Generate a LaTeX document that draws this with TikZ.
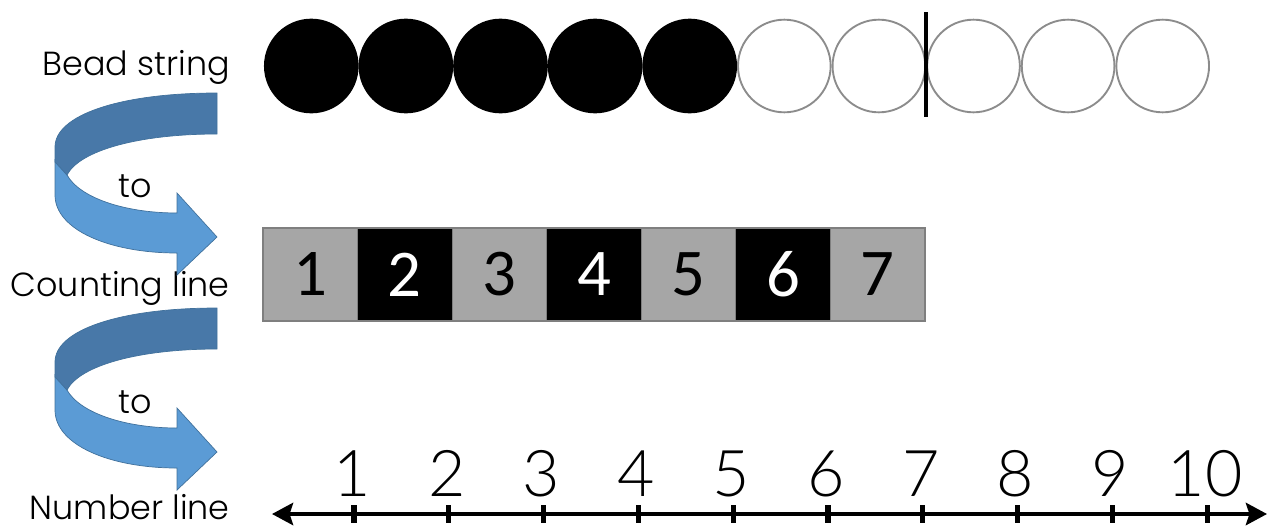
\documentclass[tikz,border=0pt]{standalone}
\usepackage{fontspec}
\setmainfont{Poppins Light}
\newfontfamily\calib{Carlito}
\newfontfamily\thindigits{Lato Light}
\usetikzlibrary{arrows.meta}
\definecolor{bdark}{HTML}{4878A8}
\definecolor{blight}{HTML}{5B9BD5}
\definecolor{bedge}{HTML}{41719C}
\definecolor{boxgray}{HTML}{A6A6A6}
\definecolor{boxedge}{HTML}{7F7F7F}
\definecolor{beadedge}{HTML}{8C8C8C}
\tikzset{
  px/.style={x=0.03cm,y=-0.03cm},
  beadfull/.style={circle,fill=black,inner sep=0pt,minimum size=2.84cm},
  beadopen/.style={circle,draw=beadedge,line width=1.6pt,fill=white,inner sep=0pt,minimum size=2.78cm},
  cellbox/.style={rectangle,draw=boxedge,line width=1pt,inner sep=0pt,minimum width=2.837cm,minimum height=2.79cm,font=\calib\fontsize{57}{60}\selectfont},
  graycell/.style={cellbox,fill=boxgray,text=black},
  blackcell/.style={cellbox,fill=black,text=white},
  sidelabel/.style={anchor=base east,inner sep=0pt,font=\fontsize{28.5}{30}\selectfont},
  tolabel/.style={anchor=base,inner sep=0pt,font=\fontsize{28.5}{30}\selectfont},
  numlabel/.style={anchor=base,inner sep=0pt,font=\thindigits\fontsize{55}{60}\selectfont},
  tick/.style={line width=4.3pt},
}
\newcommand{\uturn}[1]{%
  \begin{scope}[yshift=#1]
    \fill[blight,draw=bedge,line width=0.6pt]
      (55,160) -- (55,195) .. controls (55,230) and (110,253) .. (177,253)
      -- (177,275) -- (217,237) -- (177,193) -- (177,213)
      .. controls (125,213) and (80,198) .. (67,175) -- cycle;
    \fill[bdark,draw=bedge,line width=0.6pt]
      (217,93) .. controls (120,93) and (55,115) .. (55,147) -- (55,162)
      -- (67,175) .. controls (80,150) and (140,134) .. (217,134) -- cycle;
  \end{scope}}
\begin{document}
\begin{tikzpicture}[px]
\useasboundingbox (0,0) rectangle (1268,528);
% bead string
\foreach \i in {0,...,4}{
  \node[beadfull] (b\i) at ({311.3+94.6*\i},66) {};
}
\foreach \i in {5,...,9}{
  \node[beadopen] (b\i) at ({311.3+94.6*\i},66) {};
}
\coordinate (divT) at (926,12);
\coordinate (divB) at (926,117);
\draw[line width=4.2pt] (divT) -- (divB);
% counting line
\foreach \n/\st [count=\k from 0] in {1/graycell,2/blackcell,3/graycell,4/blackcell,5/graycell,6/blackcell,7/graycell}{
  \node[\st] (c\n) at ({263+47.3+94.57*\k},274.5) {\n};
}
% number line
\coordinate (nlL) at (272,514);
\coordinate (nlR) at (1267,514);
\draw[line width=3.4pt,{Stealth[length=18pt,width=19pt,inset=3pt]}-{Stealth[length=18pt,width=19pt,inset=3pt]}] (nlL) -- (nlR);
\foreach \n [count=\k from 0] in {1,...,10}{
  \coordinate (t\n) at ({354+94.8*\k},514);
  \draw[tick] ([yshift=0.27cm]t\n) -- ([yshift=-0.27cm]t\n);
  \node[numlabel] (n\n) at ({352+94.8*\k},496) {\n};
}
% side labels
\node[sidelabel] (lb) at (230,75) {Bead string};
\node[sidelabel] (lc) at (230,296) {Counting line};
\node[sidelabel] (ln) at (230,519) {Number line};
% u-turn arrows
\uturn{0}
\uturn{-6.45cm}
\node[tolabel] (to1) at (135,197) {to};
\node[tolabel] (to2) at (135,413) {to};
\end{tikzpicture}
\end{document}
